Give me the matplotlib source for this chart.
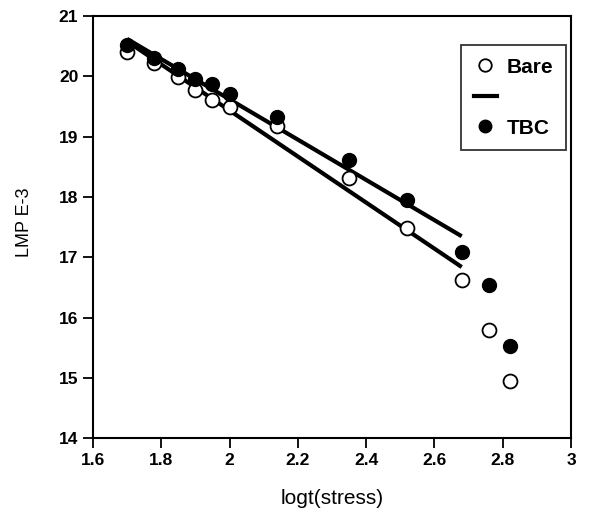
import matplotlib.pyplot as plt
from matplotlib.lines import Line2D

plt.rcParams['font.family'] = ['Liberation Sans', 'DejaVu Sans']

# logt(stress) positions of the test points
x_pts = [1.70, 1.78, 1.85, 1.90, 1.95, 2.00, 2.14, 2.35, 2.52, 2.68, 2.76, 2.82]
# LMP E-3 values
bare = [20.40, 20.22, 19.99, 19.77, 19.60, 19.49, 19.17, 18.31, 17.48, 16.62, 15.80, 14.95]
tbc = [20.52, 20.30, 20.12, 19.95, 19.87, 19.70, 19.33, 18.62, 17.95, 17.09, 16.55, 15.53]

# fitted trend lines (end points)
fit_x = [1.70, 2.68]
bare_fit = [20.58, 16.84]
tbc_fit = [20.62, 17.35]

fig = plt.figure(figsize=(5.92, 5.08), dpi=100)
ax = fig.add_axes([0.157, 0.137, 0.8075, 0.8315])

ax.plot(fit_x, bare_fit, color='black', lw=3, solid_capstyle='butt', zorder=2)
ax.plot(fit_x, tbc_fit, color='black', lw=3, solid_capstyle='butt', zorder=2)
ax.plot(x_pts, bare, 'o', ms=10, mfc='white', mec='black', mew=1.3, zorder=3)
ax.plot(x_pts, tbc, 'o', ms=10, mfc='black', mec='black', zorder=4)

ax.set_xlim(1.6, 3.0)
ax.set_ylim(14, 21)
ax.set_xticks([1.6, 1.8, 2.0, 2.2, 2.4, 2.6, 2.8, 3.0])
ax.set_xticklabels(['1.6', '1.8', '2', '2.2', '2.4', '2.6', '2.8', '3'])
ax.set_yticks(range(14, 22))
ax.tick_params(direction='out', length=7, width=1.3, labelsize=12.5)
for lbl in ax.get_xticklabels() + ax.get_yticklabels():
    lbl.set_fontweight('bold')
for sp in ax.spines.values():
    sp.set_linewidth(1.5)

ax.set_xlabel('logt(stress)', fontsize=15, labelpad=15)
ax.set_ylabel('LMP E-3', fontsize=13)
ax.yaxis.set_label_coords(-0.125, 0.512)

handles = [
    Line2D([], [], ls='none', marker='o', ms=9, mfc='white', mec='black', mew=1.3),
    Line2D([], [], color='black', lw=3),
    Line2D([], [], ls='none', marker='o', ms=9, mfc='black', mec='black'),
]
leg = ax.legend(handles, ['Bare', '', 'TBC'], loc='upper right',
                bbox_to_anchor=(0.99, 0.931), borderaxespad=0,
                frameon=True, fancybox=False, edgecolor='black',
                handlelength=1.1, handletextpad=0.5,
                labelspacing=0.55, borderpad=0.6,
                prop={'weight': 'bold', 'size': 15})
leg.get_frame().set_linewidth(1.3)

fig.savefig('out.png', dpi=100)
